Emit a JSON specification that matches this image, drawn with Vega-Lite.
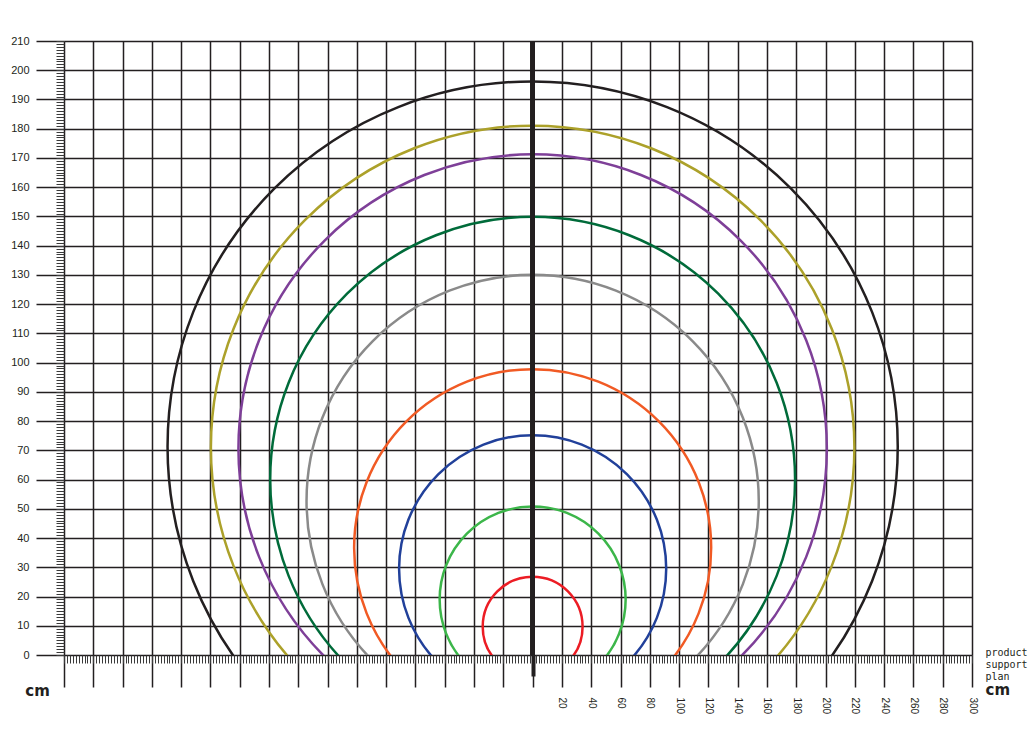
{
  "$schema": "https://vega.github.io/schema/vega-lite/v6.json",
  "autosize": {"type": "none"},
  "padding": {"left": 64, "top": 41, "right": 58, "bottom": 82},
  "width": 908,
  "height": 614,
  "background": "white",
  "config": {"view": {"stroke": null}},
  "data": {"values": [
    {"ring": "r1", "centre": 9.7, "radius": 34.1},
    {"ring": "r2", "centre": 19, "radius": 63.5},
    {"ring": "r3", "centre": 29.5, "radius": 91.2},
    {"ring": "r4", "centre": 36.7, "radius": 121.9},
    {"ring": "r5", "centre": 52.7, "radius": 154.4},
    {"ring": "r6", "centre": 60.1, "radius": 179.2},
    {"ring": "r7", "centre": 70.6, "radius": 200.9},
    {"ring": "r8", "centre": 71, "radius": 219.7},
    {"ring": "r9", "centre": 71.3, "radius": 249.3}
  ]},
  "resolve": {"axis": {"x": "independent", "y": "independent"}},
  "layer": [
    {
      "mark": {"type": "point", "filled": false, "strokeWidth": 2.5, "opacity": 1, "clip": true},
      "encoding": {
        "x": {"datum": 0, "type": "quantitative",
          "scale": {"domain": [-320, 300], "nice": false, "zero": false},
          "axis": {"orient": "bottom", "values": [-320,-300,-280,-260,-240,-220,-200,-180,-160,-140,-120,-100,-80,-60,-40,-20,0,20,40,60,80,100,120,140,160,180,200,220,240,260,280,300],
            "grid": true, "gridColor": "#231f20", "gridWidth": 1.5, "gridOpacity": 1,
            "domain": false, "tickSize": 32, "tickColor": "#231f20", "tickWidth": 1.5,
            "labelExpr": "datum.value > 0 ? datum.label : ''", "labelAngle": 90, "labelPadding": 10,
            "labelFont": "Liberation Sans", "labelFontSize": 10, "labelColor": "#231f20",
            "labelFlush": false, "labelOverlap": false, "labelBound": false,
            "title": ["product", "support", "plan"], "titleX": 921, "titleY": -8,
            "titleAlign": "left", "titleBaseline": "top", "titleFont": "DejaVu Sans Mono",
            "titleFontSize": 10, "titleFontWeight": "normal", "titleLineHeight": 12, "titleColor": "#231f20"}},
        "y": {"field": "centre", "type": "quantitative",
          "scale": {"domain": [0, 210], "nice": false, "zero": false},
          "axis": {"orient": "left", "values": [0,10,20,30,40,50,60,70,80,90,100,110,120,130,140,150,160,170,180,190,200,210],
            "grid": true, "gridColor": "#231f20", "gridWidth": 1.5, "gridOpacity": 1,
            "domain": false, "tickSize": 28, "tickColor": "#231f20", "tickWidth": 1.5,
            "labelPadding": 7, "labelFont": "Liberation Sans", "labelFontSize": 11, "labelColor": "#231f20",
            "labelFlush": false, "labelOverlap": false, "title": null}},
        "size": {"field": "radius", "type": "quantitative",
          "scale": {"type": "pow", "exponent": 2, "domain": [0, 100], "range": [0, 85791]}, "legend": null},
        "color": {"field": "ring", "type": "nominal",
          "scale": {"domain": ["r1","r2","r3","r4","r5","r6","r7","r8","r9"],
            "range": ["#ec1c24", "#3cb64a", "#21409a", "#f15a24", "#8a8a8a", "#006b3a", "#7e3f98", "#aca12a", "#231f20"]},
          "legend": null}
      }
    },
    {
      "mark": {"type": "point", "opacity": 0},
      "encoding": {
        "x": {"datum": 0, "type": "quantitative",
          "axis": {"orient": "bottom", "tickCount": 310, "grid": false, "domain": false, "labels": false,
            "tickSize": 8, "tickColor": "#3a3a3a", "tickWidth": 1,
            "title": "cm", "titleX": 921, "titleY": 39, "titleAlign": "left", "titleBaseline": "alphabetic",
            "titleFont": "DejaVu Sans", "titleFontSize": 15, "titleFontWeight": "bold", "titleColor": "#231f20"}},
        "y": {"field": "centre", "type": "quantitative",
          "axis": {"orient": "left", "tickCount": 210, "grid": false, "domain": false, "labels": false,
            "tickSize": 8, "tickColor": "#3a3a3a", "tickWidth": 1, "title": null}}
      }
    },
    {
      "mark": {"type": "rule", "strokeWidth": 4, "color": "#231f20"},
      "encoding": {
        "x": {"datum": 0, "type": "quantitative",
          "axis": {"orient": "bottom", "values": [0], "grid": false, "domain": false, "labels": false,
            "tickSize": 21, "tickColor": "#231f20", "tickWidth": 4,
            "title": "cm", "titleX": -27, "titleY": 40, "titleAlign": "center", "titleBaseline": "alphabetic",
            "titleFont": "DejaVu Sans", "titleFontSize": 15, "titleFontWeight": "bold", "titleColor": "#231f20"}}
      }
    }
  ]
}
